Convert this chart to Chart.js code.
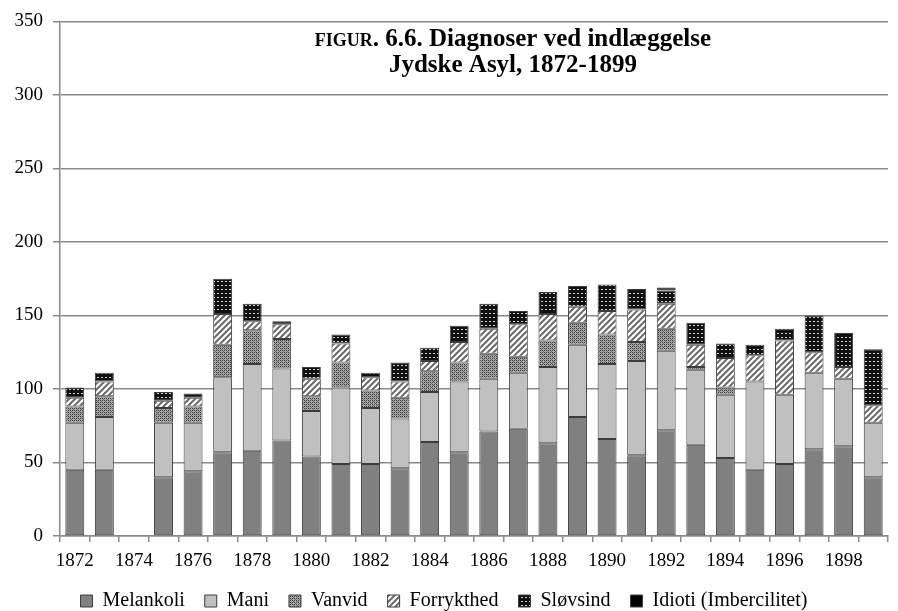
<!DOCTYPE html>
<html>
<head>
<meta charset="utf-8">
<script src="https://cdn.jsdelivr.net/npm/chart.js@4/dist/chart.umd.min.js"></script>
<style>
  html, body { margin: 0; padding: 0; background: #fff; }
  #wrap { width: 898px; height: 611px; }
</style>
</head>
<body>
<div id="wrap"><canvas id="chart"></canvas></div>
<script>
(function () {
    "use strict";

    // data
    const years = ["1872", "1873", "1874", "1875", "1876", "1877", "1878", "1879", "1880", "1881",
        "1882", "1883", "1884", "1885", "1886", "1887", "1888", "1889", "1890", "1891",
        "1892", "1893", "1894", "1895", "1896", "1897", "1898", "1899"];
    const melankoli = [45, 45, null, 40, 44, 57, 58, 65, 54, 49, 49, 46, 64, 57, 71, 73, 63, 81, 66, 55, 72, 62, 53, 45, 49, 59, 61, 40];
    const mani = [32, 36, null, 37, 33, 51, 59, 49, 31, 52, 38, 34, 34, 48, 36, 38, 52, 49, 51, 64, 54, 51, 43, 60, 47, 52, 46, 37];
    const vanvid = [11, 14, null, 10, 11, 22, 23, 20, 10, 17, 12, 14, 14, 13, 17, 11, 18, 15, 20, 13, 15, 2, 5, null, null, null, null, null];
    const forrykthed = [6, 10, null, 5, 6, 21, 6, 10, 12, 13, 9, 11, 7, 14, 17, 22, 18, 11, 16, 22, 17, 15, 20, 18, 37, 14, 8, 12];
    const slovsind = [7, 6, null, 6, 3, 24, 12, 2, 8, 6, 3, 13, 9, 11, 17, 9, 15, 14, 18, 14, 9, 15, 10, 7, 8, 25, 23, 38];
    const idioti = [null, null, null, null, null, null, null, null, null, null, null, null, null, null, null, null, null, null, null, null, 2, null, null, null, null, null, null, null];
    const seriesNames = ["Melankoli", "Mani", "Vanvid", "Forrykthed", "Sløvsind", "Idioti (Imbercilitet)"];

    const FONT = "'Liberation Serif', 'DejaVu Serif', serif";

    function makePattern(size, draw) {
        let c = document.createElement("canvas");
        c.width = size;
        c.height = size;
        let g = c.getContext("2d");
        draw(g, size);
        return g.createPattern(c, "repeat");
    }

    // stipple for Vanvid
    let vanvidFill = makePattern(4, function (g) {
        g.fillStyle = "#a8a8a8";
        g.fillRect(0, 0, 4, 4);
        g.fillStyle = "#3a3a3a";
        g.fillRect(0, 0, 1, 1);
        g.fillRect(2, 2, 1, 1);
        g.fillRect(2, 0, 1, 1);
        g.fillRect(0, 2, 1, 1);
        g.fillStyle = "#6a6a6a";
        g.fillRect(1, 1, 1, 1);
        g.fillRect(3, 3, 1, 1);
    });

    // diagonal hatch for Forrykthed
    let forrFill = makePattern(6, function (g, s) {
        g.fillStyle = "#ffffff";
        g.fillRect(0, 0, s, s);
        g.strokeStyle = "#6a6a6a";
        g.lineWidth = 2;
        g.beginPath();
        g.moveTo(-1, s + 1);
        g.lineTo(s + 1, -1);
        g.moveTo(-1, 1);
        g.lineTo(1, -1);
        g.moveTo(s - 1, s + 1);
        g.lineTo(s + 1, s - 1);
        g.stroke();
    });

    // dark dots for Sløvsind
    let slovFill = makePattern(4, function (g) {
        g.fillStyle = "#111111";
        g.fillRect(0, 0, 4, 4);
        g.fillStyle = "#d0d0d0";
        g.fillRect(1, 1, 2, 1);
    });

    const fills = ["#808080", "#c0c0c0", vanvidFill, forrFill, slovFill, "#000000"];
    const values = [melankoli, mani, vanvid, forrykthed, slovsind, idioti];

    let datasets = seriesNames.map(function (name, i) {
        return {
            label: name,
            data: values[i],
            backgroundColor: fills[i],
            borderColor: "#3c3c3c",
            borderWidth: 1,
            borderSkipped: false,
            categoryPercentage: 1,
            barPercentage: 0.64,
        };
    });

    // figure title drawn inside the plot area
    let titlePlugin = {
        id: "figTitle",
        afterDraw: function (chart) {
            let ctx = chart.ctx;
            let a = chart.chartArea;
            let cx = a.left + (a.right - a.left) * 0.547;
            ctx.save();
            ctx.fillStyle = "#000";
            ctx.textBaseline = "alphabetic";
            let small = "bold 18px " + FONT;
            let big = "bold 25px " + FONT;
            ctx.font = small;
            let w1 = ctx.measureText("FIGUR").width;
            ctx.font = big;
            let rest = ". 6.6. Diagnoser ved indlæggelse";
            let w2 = ctx.measureText(rest).width;
            let x0 = cx - (w1 + w2) / 2;
            ctx.font = small;
            ctx.textAlign = "left";
            ctx.fillText("FIGUR", x0, 46);
            ctx.font = big;
            ctx.fillText(rest, x0 + w1, 46);
            ctx.textAlign = "center";
            ctx.fillText("Jydske Asyl, 1872-1899", cx, 72);
            ctx.restore();
        },
    };

    let ctx = document.getElementById("chart").getContext("2d");
    let myChart = new Chart(ctx, {
        type: "bar",
        data: {
            labels: years,
            datasets: datasets,
        },
        options: {
            responsive: true,
            maintainAspectRatio: false,
            animation: false,
            layout: {
                padding: { top: 16, right: 10, bottom: -10, left: 0 },
            },
            scales: {
                x: {
                    stacked: true,
                    grid: {
                        drawOnChartArea: false,
                        drawTicks: true,
                        tickLength: 6,
                        color: "#8a8a8a",
                        lineWidth: 1.5,
                        offset: true,
                    },
                    border: { color: "#8a8a8a", width: 1.5 },
                    ticks: {
                        autoSkip: false,
                        maxRotation: 0,
                        color: "#000",
                        padding: 8,
                        font: { family: FONT, size: 19 },
                        callback: function (val, idx) {
                            return idx % 2 === 0 ? this.getLabelForValue(val) : "";
                        },
                    },
                    afterFit: function (scale) {
                        scale.height = 35;
                    },
                },
                y: {
                    stacked: true,
                    min: 0,
                    max: 350,
                    grid: {
                        color: "#8a8a8a",
                        lineWidth: 1.5,
                        tickLength: 7,
                    },
                    border: { color: "#8a8a8a", width: 1.5 },
                    ticks: {
                        stepSize: 50,
                        color: "#000",
                        padding: 10,
                        font: { family: FONT, size: 19 },
                    },
                    afterFit: function (scale) {
                        scale.width = 60;
                    },
                },
            },
            plugins: {
                legend: {
                    display: true,
                    position: "bottom",
                    labels: {
                        boxWidth: 12,
                        boxHeight: 12,
                        padding: 20,
                        color: "#000",
                        font: { family: FONT, size: 20 },
                    },
                },
                tooltip: { enabled: false },
            },
        },
        plugins: [titlePlugin],
    });
})();
</script>
</body>
</html>
